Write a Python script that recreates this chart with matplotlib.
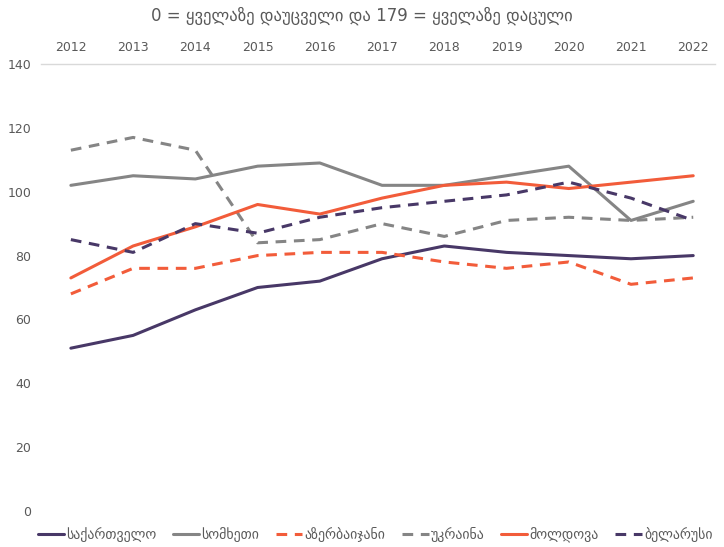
import matplotlib
matplotlib.use("Agg")
import matplotlib.pyplot as plt

years = list(range(2012, 2023))

georgia = [51, 55, 63, 70, 72, 79, 83, 81, 80, 79, 80]
armenia = [102, 105, 104, 108, 109, 102, 102, 105, 108, 91, 97]
azerbaijan = [68, 76, 76, 80, 81, 81, 78, 76, 78, 71, 73]
ukraine = [113, 117, 113, 84, 85, 90, 86, 91, 92, 91, 92]
moldova = [73, 83, 89, 96, 93, 98, 102, 103, 101, 103, 105]
belarus = [85, 81, 90, 87, 92, 95, 97, 99, 103, 98, 91]

names = ["საქართველო", "სომხეთი", "აზერბაიჯანი", "უკრაინა", "მოლდოვა", "ბელარუსი"]
title = "0 = ყველაზე დაუცველი და 179 = ყველაზე დაცული"

purple = "#483867"
gray = "#858585"
orange = "#F25C3A"
text_col = "#595959"

# narrow font for digits, DejaVu for the georgian letters
plt.rcParams['font.family'] = ['Liberation Sans Narrow', 'DejaVu Sans']

fig = plt.figure(figsize=(7.24, 5.47), dpi=100)
ax = fig.add_axes([41 / 724, 1 - 511 / 547, (715 - 41) / 724, (511 - 64) / 547])

series = [
    (georgia, purple, "-"),
    (armenia, gray, "-"),
    (azerbaijan, orange, "--"),
    (ukraine, gray, "--"),
    (moldova, orange, "-"),
    (belarus, purple, "--"),
]
for (vals, col, ls), name in zip(series, names):
    line, = ax.plot(years, vals, color=col, lw=2.2, ls=ls, label=name,
                    solid_capstyle="round")
    if ls == "--":
        line.set_dashes((3.5, 2.5))

ax.set_ylim(0, 140)
ax.set_xlim(2011.52, 2022.35)
ax.set_yticks(range(0, 141, 20))
ax.set_xticks(years)
ax.xaxis.tick_top()
ax.tick_params(axis="both", length=0, labelsize=9, colors=text_col)
ax.tick_params(axis="x", pad=7)
ax.tick_params(axis="y", pad=7)
for s in ["left", "right", "bottom"]:
    ax.spines[s].set_visible(False)
ax.spines["top"].set_color("#d9d9d9")
ax.spines["top"].set_linewidth(1)

fig.text(0.5, 1 - 16 / 547, title, ha="center", va="center",
         fontsize=12, color=text_col)

fig.legend(loc="center", bbox_to_anchor=(0.518, 1 - 535 / 547), ncol=6,
           frameon=False, fontsize=10, handlelength=1.9, handletextpad=0.15,
           columnspacing=1.2, labelcolor=text_col)

fig.savefig("out.png", dpi=100)
